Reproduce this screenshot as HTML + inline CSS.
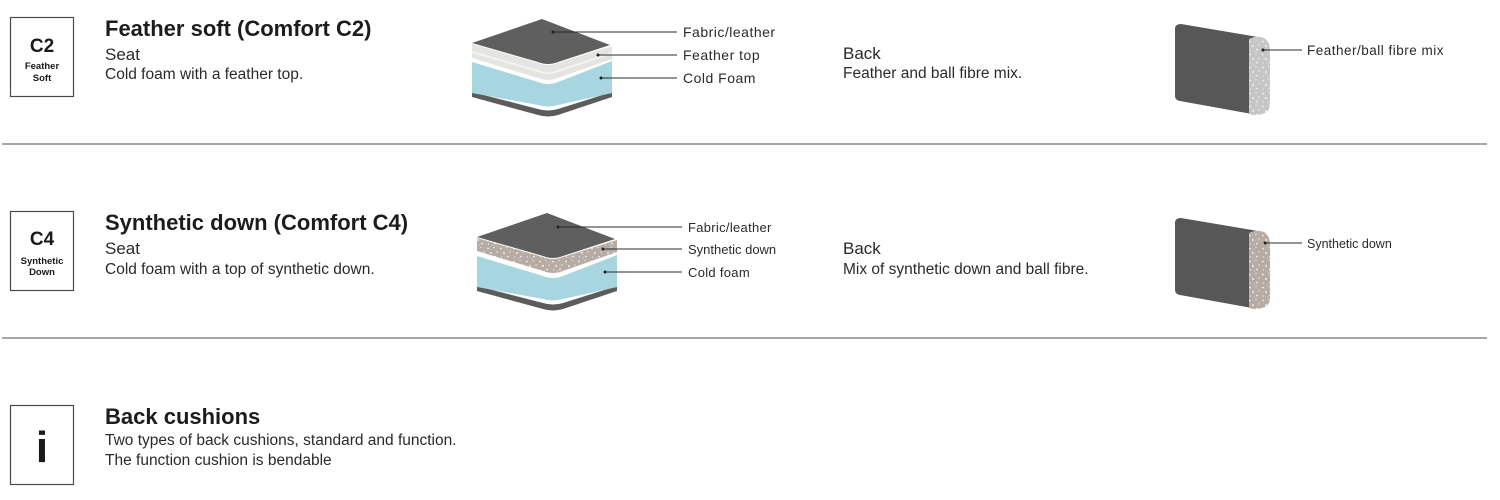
<!DOCTYPE html>
<html>
<head>
<meta charset="utf-8">
<style>
  html,body{margin:0;padding:0;background:#fff;}
  body{width:1500px;height:500px;overflow:hidden;}
  svg{display:block;}
  text{font-family:"Liberation Sans", sans-serif;}
</style>
</head>
<body>
<svg width="1500" height="500" viewBox="0 0 1500 500" xmlns="http://www.w3.org/2000/svg">
  <defs>
    <pattern id="spG" width="13" height="13" patternUnits="userSpaceOnUse">
      <rect width="13" height="13" fill="#c6c6c6"/>
      <circle cx="2" cy="2.5" r="0.8" fill="#fff"/>
      <circle cx="8" cy="1.5" r="0.6" fill="#f4f4f4"/>
      <circle cx="5" cy="7" r="0.9" fill="#fff"/>
      <circle cx="11" cy="6" r="0.6" fill="#fff"/>
      <circle cx="2.5" cy="11" r="0.6" fill="#eee"/>
      <circle cx="9" cy="10.5" r="0.8" fill="#fff"/>
      <circle cx="6.5" cy="12" r="0.4" fill="#fff"/>
    </pattern>
    <pattern id="spT" width="13" height="13" patternUnits="userSpaceOnUse">
      <rect width="13" height="13" fill="#b7aca4"/>
      <circle cx="2" cy="2.5" r="0.8" fill="#fff"/>
      <circle cx="8" cy="1.5" r="0.6" fill="#f4f4f4"/>
      <circle cx="5" cy="7" r="0.9" fill="#fff"/>
      <circle cx="11" cy="6" r="0.6" fill="#fff"/>
      <circle cx="2.5" cy="11" r="0.6" fill="#eee"/>
      <circle cx="9" cy="10.5" r="0.8" fill="#fff"/>
      <circle cx="6.5" cy="12" r="0.4" fill="#fff"/>
    </pattern>
  </defs>

  <!-- separators -->
  <line x1="2" y1="144" x2="1487" y2="144" stroke="#8a8a8a" stroke-width="1.5"/>
  <line x1="2" y1="338" x2="1487" y2="338" stroke="#8a8a8a" stroke-width="1.5"/>

  <!-- ========== SECTION 1 ========== -->
  <rect x="10.5" y="17.5" width="63" height="79" fill="#fff" stroke="#4a4a4a" stroke-width="1.2"/>
  <text x="42" y="52" font-size="19" font-weight="bold" text-anchor="middle" fill="#1a1a1a">C2</text>
  <text x="42" y="69" font-size="9.5" font-weight="bold" text-anchor="middle" fill="#1a1a1a">Feather</text>
  <text x="42" y="81" font-size="9.5" font-weight="bold" text-anchor="middle" fill="#1a1a1a">Soft</text>

  <text x="105" y="36" font-size="22" font-weight="bold" fill="#1c1c1c">Feather soft (Comfort C2)</text>
  <text x="105" y="60" font-size="17" fill="#2a2a2a">Seat</text>
  <text x="105" y="79" font-size="15.5" fill="#2a2a2a">Cold foam with a feather top.</text>

  <!-- seat layers 1 -->
  <g>
    <path d="M472,92 L538,109 Q548,112 558,109 L612,92 L612,97 L558,115 Q548,118 538,115 L472,97 Z" fill="#5c5c5c"/>
    <path d="M472,62 L538,82 Q548,86 558,82 L612,61 L612,93 L558,105 Q548,108 538,105 L472,93 Z" fill="#a8d6e0"/>
    <path d="M472,44 L538,63 Q548,67 558,63 L612,46 L612,59 L558,78 Q548,82 538,78 L472,58 Z" fill="#e4e4e1"/>
    <path d="M472,52 L538,71 Q548,75 558,71 L612,53" fill="none" stroke="#f3f3f1" stroke-width="2"/>
    <path d="M472,43 L542,19 L610,45 L558,62 Q548,66 538,62 Z" fill="#5f5f5f"/>
  </g>
  <g stroke="#2a2a2a" stroke-width="1">
    <line x1="553" y1="32" x2="677" y2="32"/>
    <line x1="598" y1="55" x2="677" y2="55"/>
    <line x1="601" y1="78" x2="677" y2="78"/>
  </g>
  <circle cx="553" cy="32" r="1.5" fill="#222"/>
  <circle cx="598" cy="55" r="1.5" fill="#222"/>
  <circle cx="601" cy="78" r="1.5" fill="#222"/>
  <text x="683" y="37" font-size="14" letter-spacing="0.5" fill="#2a2a2a">Fabric/leather</text>
  <text x="683" y="60" font-size="14" letter-spacing="0.5" fill="#2a2a2a">Feather top</text>
  <text x="683" y="83" font-size="14" letter-spacing="0.5" fill="#2a2a2a">Cold Foam</text>

  <text x="843" y="59" font-size="17" fill="#2a2a2a">Back</text>
  <text x="843" y="78" font-size="15.5" fill="#2a2a2a">Feather and ball fibre mix.</text>

  <!-- back cushion 1 -->
  <g>
    <path d="M1175,29 Q1175,24 1181,24 L1258,37 L1252,114 L1180,101 Q1175,100 1175,96 Z" fill="#575757"/>
    <path d="M1249,39 Q1257,35 1264,38 Q1270,42 1270,50 L1270,104 Q1270,112 1262,114 Q1256,116 1249,114 Z" fill="url(#spG)"/>
  </g>
  <line x1="1263" y1="50" x2="1302" y2="50" stroke="#2a2a2a" stroke-width="1"/>
  <circle cx="1263" cy="50" r="1.5" fill="#222"/>
  <text x="1307" y="55" font-size="13.5" letter-spacing="0.5" fill="#2a2a2a">Feather/ball fibre mix</text>

  <!-- ========== SECTION 2 ========== -->
  <rect x="10.5" y="211.5" width="63" height="79" fill="#fff" stroke="#4a4a4a" stroke-width="1.2"/>
  <text x="42" y="245" font-size="19" font-weight="bold" text-anchor="middle" fill="#1a1a1a">C4</text>
  <text x="42" y="264" font-size="9.5" font-weight="bold" text-anchor="middle" fill="#1a1a1a">Synthetic</text>
  <text x="42" y="275" font-size="9.5" font-weight="bold" text-anchor="middle" fill="#1a1a1a">Down</text>

  <text x="105" y="230" font-size="22" font-weight="bold" fill="#1c1c1c">Synthetic down (Comfort C4)</text>
  <text x="105" y="254" font-size="17" fill="#2a2a2a">Seat</text>
  <text x="105" y="274" font-size="15.5" fill="#2a2a2a">Cold foam with a top of synthetic down.</text>

  <g transform="translate(5,194)">
    <path d="M472,92 L538,109 Q548,112 558,109 L612,92 L612,97 L558,115 Q548,118 538,115 L472,97 Z" fill="#5c5c5c"/>
    <path d="M472,62 L538,82 Q548,86 558,82 L612,61 L612,93 L558,105 Q548,108 538,105 L472,93 Z" fill="#a8d6e0"/>
    <path d="M472,44 L538,63 Q548,67 558,63 L612,46 L612,58 L558,77 Q548,81 538,77 L472,57 Z" fill="url(#spT)"/>
    <path d="M472,43 L542,19 L610,45 L558,62 Q548,66 538,62 Z" fill="#5f5f5f"/>
  </g>
  <g stroke="#2a2a2a" stroke-width="1">
    <line x1="558" y1="227" x2="682" y2="227"/>
    <line x1="603" y1="249" x2="682" y2="249"/>
    <line x1="605" y1="272" x2="682" y2="272"/>
  </g>
  <circle cx="558" cy="227" r="1.5" fill="#222"/>
  <circle cx="603" cy="249" r="1.5" fill="#222"/>
  <circle cx="605" cy="272" r="1.5" fill="#222"/>
  <text x="688" y="232" font-size="13" letter-spacing="0.3" fill="#2a2a2a">Fabric/leather</text>
  <text x="688" y="254" font-size="13" fill="#2a2a2a">Synthetic down</text>
  <text x="688" y="277" font-size="13" letter-spacing="0.3" fill="#2a2a2a">Cold foam</text>

  <text x="843" y="254" font-size="17" fill="#2a2a2a">Back</text>
  <text x="843" y="274" font-size="15.5" fill="#2a2a2a">Mix of synthetic down and ball fibre.</text>

  <g transform="translate(0,194)">
    <path d="M1175,29 Q1175,24 1181,24 L1258,37 L1252,114 L1180,101 Q1175,100 1175,96 Z" fill="#575757"/>
    <path d="M1249,39 Q1257,35 1264,38 Q1270,42 1270,50 L1270,104 Q1270,112 1262,114 Q1256,116 1249,114 Z" fill="url(#spT)"/>
  </g>
  <line x1="1265" y1="243" x2="1302" y2="243" stroke="#2a2a2a" stroke-width="1"/>
  <circle cx="1265" cy="243" r="1.5" fill="#222"/>
  <text x="1307" y="248" font-size="12.5" fill="#2a2a2a">Synthetic down</text>

  <!-- ========== SECTION 3 ========== -->
  <rect x="10.5" y="405.5" width="63" height="79" fill="#fff" stroke="#4a4a4a" stroke-width="1.2"/>
  <text x="42" y="462" font-size="44" font-weight="bold" text-anchor="middle" fill="#1a1a1a">i</text>

  <text x="105" y="424" font-size="22" font-weight="bold" fill="#1c1c1c">Back cushions</text>
  <text x="105" y="445" font-size="15.5" fill="#2a2a2a">Two types of back cushions, standard and function.</text>
  <text x="105" y="465" font-size="15.5" fill="#2a2a2a">The function cushion is bendable</text>
</svg>
</body>
</html>
